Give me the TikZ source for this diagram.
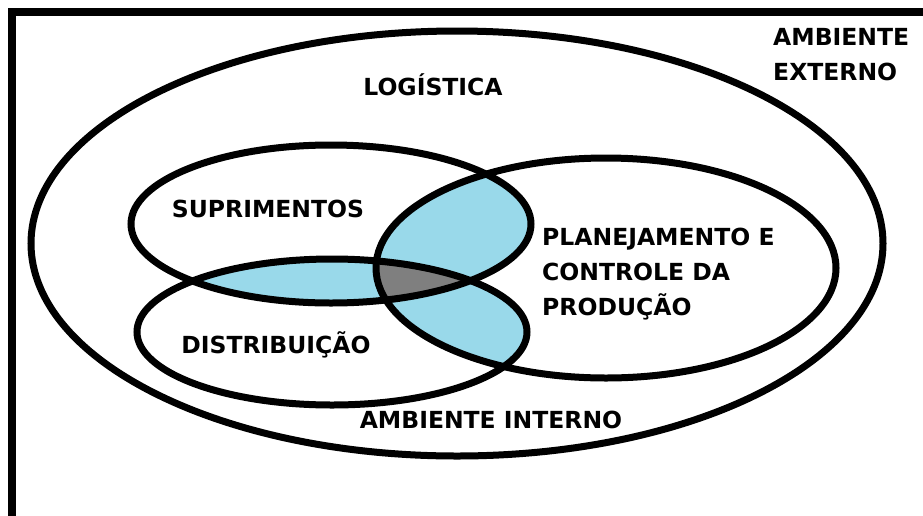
\documentclass[tikz,border=0pt]{standalone}
\usepackage{fontspec}
\setmainfont{DejaVu Sans}
\definecolor{lens}{HTML}{99D9EA}
\definecolor{core}{HTML}{7F7F7F}
\begin{document}
\begin{tikzpicture}[x=1pt,y=-1pt,
  ring/.style={draw=black, line width=7pt},
  lbl/.style={font=\fontsize{23.5}{35}\selectfont\bfseries, inner sep=0pt, text=black},
  bigset/.style={insert path={(457,243.5) ellipse [x radius=426pt, y radius=212.5pt]}},
  supset/.style={insert path={(331,224) ellipse [x radius=200pt, y radius=79pt]}},
  disset/.style={insert path={(332,332) ellipse [x radius=195pt, y radius=73pt]}},
  pcpset/.style={insert path={(606,268) ellipse [x radius=230pt, y radius=110pt]}}]
\useasboundingbox (0,0) rectangle (923,515);
\fill[white] (0,0) rectangle (923,515);
\begin{scope}
  \clip (0,0) rectangle (923,515);
  \draw[line width=8pt] (12,540) -- (12,12) -- (950,12);
\end{scope}
% pairwise overlaps
\begin{scope}\clip[supset]; \fill[lens, pcpset]; \end{scope}
\begin{scope}\clip[supset]; \fill[lens, disset]; \end{scope}
\begin{scope}\clip[disset]; \fill[lens, pcpset]; \end{scope}
% triple overlap
\begin{scope}\clip[supset]; \clip[disset]; \fill[core, pcpset]; \end{scope}
% outlines
\draw[ring, bigset];
\draw[ring, supset];
\draw[ring, disset];
\draw[ring, pcpset];
% labels
\node[lbl, anchor=base] (tlog) at (433,95) {LOGÍSTICA};
\node[lbl, anchor=base west, align=left] (text) at (773,80) {AMBIENTE\\EXTERNO};
\node[lbl, anchor=base] (tsup) at (268,217) {SUPRIMENTOS};
\node[lbl, anchor=base] (tdis) at (276,353) {DISTRIBUIÇÃO};
\node[lbl, anchor=base west, align=left] (tpcp) at (542,315) {PLANEJAMENTO E\\CONTROLE DA\\PRODUÇÃO};
\node[lbl, anchor=base] (tint) at (491,428) {AMBIENTE INTERNO};
\end{tikzpicture}
\end{document}
